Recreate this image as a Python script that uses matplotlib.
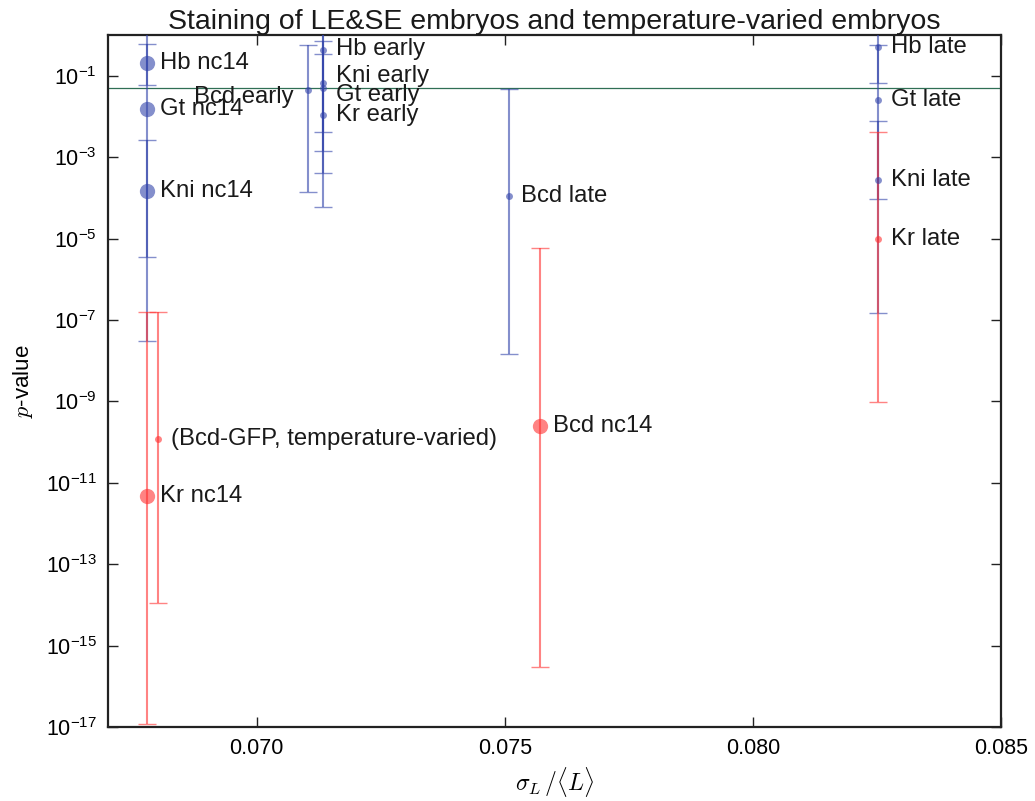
import numpy as np
import matplotlib
matplotlib.use("Agg")
import matplotlib.pyplot as plt
from matplotlib.ticker import FixedLocator, FuncFormatter, NullLocator

plt.rcParams["font.family"] = ["Liberation Sans", "DejaVu Sans"]
plt.rcParams["mathtext.fontset"] = "custom"
plt.rcParams["mathtext.rm"] = "Liberation Sans"
plt.rcParams["mathtext.it"] = "Liberation Sans:italic"
plt.rcParams["mathtext.fallback"] = "cm"

# ---- data -------------------------------------------------------------
labels = ["Hb nc14", "Gt nc14", "Kni nc14", "Kr nc14", "Bcd nc14",
          "(Bcd-GFP, temperature-varied)",
          "Bcd early", "Hb early", "Kni early", "Gt early", "Kr early",
          "Bcd late", "Hb late", "Gt late", "Kni late", "Kr late"]
cv = [0.06778, 0.06778, 0.06778, 0.06778, 0.07571,
      0.06800,
      0.07103, 0.07133, 0.07133, 0.07133, 0.07133,
      0.07508, 0.08252, 0.08252, 0.08252, 0.08252]
pval = [0.21, 0.0155, 1.5e-4, 4.8e-12, 2.5e-10,
        1.2e-10,
        0.046, 0.44, 0.068, 0.051, 0.011,
        1.1e-4, 0.51, 0.025, 2.7e-4, 1.0e-5]
p_low = [0.060, 3.6e-6, 3.0e-8, 1.2e-17, 3.0e-16,
         1.1e-14,
         1.4e-4, 4.3e-3, 1.4e-3, 4.2e-4, 5.9e-5,
         1.5e-8, 0.066, 9.3e-5, 1.5e-7, 9.5e-10]
p_high = [2.0, 0.60, 2.6e-3, 1.55e-7, 6.0e-6,
          1.55e-7,
          0.58, 3.0, 0.71, 0.34, 2.0,
          0.048, 0.58, 2.5, 7.9e-3, 4.1e-3]
significant = [False, False, False, True, True,
               True,
               False, False, False, False, False,
               False, False, False, False, True]
big_marker = [True, True, True, True, True,
              False,
              False, False, False, False, False,
              False, False, False, False, False]
threshold = 0.05

# label offsets (pixels) and alignment
label_offset = [(13, 0), (13, 0), (13, 0), (13, 0), (13, 0),
                (13, 0),
                (-14, -7), (13, 1), (13, 7), (13, -7), (13, 0),
                (12, 0), (13, 0), (13, 0), (13, 0), (13, 0)]
label_ha = ["left"] * 16
label_ha[6] = "right"

blue = "#3344AA"
red = "#FF3030"

# ---- figure -----------------------------------------------------------
fig = plt.figure(figsize=(10.35, 8.01), dpi=100)
ax = fig.add_axes([0.1043, 0.0924, 0.8627, 0.8636])
ax.set_yscale("log")

order = [i for i in range(len(labels)) if not significant[i]] + \
        [i for i in range(len(labels)) if significant[i]]
for i in order:
    col = red if significant[i] else blue
    yerr = np.array([[pval[i] - p_low[i]], [p_high[i] - pval[i]]])
    ax.errorbar([cv[i]], [pval[i]], yerr=yerr, fmt="o", color=col,
                ecolor=col, alpha=0.6, elinewidth=1.5, capsize=6.5,
                capthick=1.0, ms=11 if big_marker[i] else 5,
                mec="none", zorder=3)

for i in range(len(labels)):
    ax.annotate(labels[i], (cv[i], pval[i]), xytext=label_offset[i],
                textcoords="offset pixels", ha=label_ha[i], va="center",
                fontsize=17.2, color="#1a1a1a", zorder=5)

ax.axhline(threshold, color="#2F6F55", lw=0.9, zorder=2)

ax.set_xlim(0.067, 0.085)
ax.set_ylim(1e-17, 1)
ax.set_xticks([0.070, 0.075, 0.080, 0.085])
ax.xaxis.set_major_formatter(FuncFormatter(lambda v, _: f"{v:.3f}"))
ax.yaxis.set_major_locator(FixedLocator([10.0 ** k for k in range(-17, 0, 2)]))
ax.yaxis.set_minor_locator(NullLocator())
ax.yaxis.set_major_formatter(
    FuncFormatter(lambda v, _: r"$10^{%d}$" % int(round(np.log10(v)))))
ax.tick_params(which="both", direction="in", top=True, right=True,
               length=7, width=1.0, labelsize=15.5, pad=8, color="#222222")
for s in ax.spines.values():
    s.set_linewidth(1.6)
    s.set_color("#222222")

ax.set_title("Staining of LE&SE embryos and temperature-varied embryos",
             fontsize=20.5, pad=4, color="#1a1a1a")
ax.set_xlabel(r"$\sigma_L\,/\langle L\rangle$", fontsize=17,
              math_fontfamily="cm", labelpad=4)
ax.set_ylabel(r"$p$-value", fontsize=16, labelpad=8)
ax.yaxis.label.set_math_fontfamily("cm")

fig.savefig("out.png", dpi=100)
